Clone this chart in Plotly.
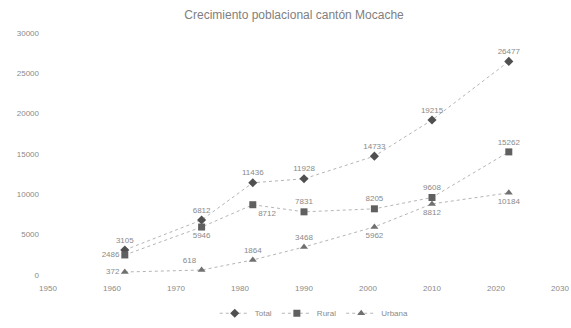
import plotly.graph_objects as go

# Census years and population per series
years = [1962, 1974, 1982, 1990, 2001, 2010, 2022]
total = [3105, 6812, 11436, 11928, 14733, 19215, 26477]
rural = [2486, 5946, 8712, 7831, 8205, 9608, 15262]
urbana = [372, 618, 1864, 3468, 5962, 8812, 10184]

x_ticks = [1950, 1960, 1970, 1980, 1990, 2000, 2010, 2020, 2030]
y_ticks = [0, 5000, 10000, 15000, 20000, 25000, 30000]
y_labels = [str(v) for v in y_ticks]

pos_total = ["top center"] * 7
pos_rural = ["middle left", "bottom center", "bottom right", "top center",
             "top center", "top center", "top center"]
pos_urbana = ["middle left", "top left", "top center", "top center",
              "bottom center", "bottom center", "bottom center"]

text_font = dict(family="Liberation Sans, Arial, sans-serif", size=8, color="#8a8a8a")

fig = go.Figure()
series = [
    ("Total", total, pos_total, "diamond", "#505050"),
    ("Rural", rural, pos_rural, "square", "#606060"),
    ("Urbana", urbana, pos_urbana, "triangle-up", "#707070"),
]
for name, vals, pos, sym, col in series:
    fig.add_trace(go.Scatter(
        x=years, y=vals, name=name, mode="lines+markers+text",
        text=[str(v) for v in vals], textposition=pos, textfont=text_font,
        line=dict(color="#b5b5b5", width=1, dash="dot"),
        marker=dict(symbol=sym, size=7, color=col),
        cliponaxis=False,
    ))

fig.update_layout(
    width=571, height=328,
    margin=dict(l=48, r=11, t=33, b=53, autoexpand=False),
    paper_bgcolor="white", plot_bgcolor="white",
    title=dict(text="Crecimiento poblacional cantón Mocache", x=0.515, y=0.955,
               xanchor="center", yanchor="middle",
               font=dict(family="Liberation Sans, Arial, sans-serif", size=12, color="#808080")),
    xaxis=dict(range=[1950, 2030], tickvals=x_ticks, showgrid=False, zeroline=False,
               showline=False, ticks="", tickfont=text_font, ticklabelstandoff=7),
    yaxis=dict(range=[0, 30000], tickvals=y_ticks, ticktext=y_labels, showgrid=False,
               zeroline=False, showline=False, ticks="", tickfont=text_font,
               ticklabelstandoff=8),
    legend=dict(orientation="h", x=0.52, xanchor="center", yref="container",
                y=0.045, yanchor="middle", font=text_font, itemwidth=30),
    showlegend=True,
)

fig.write_html("out.html")
